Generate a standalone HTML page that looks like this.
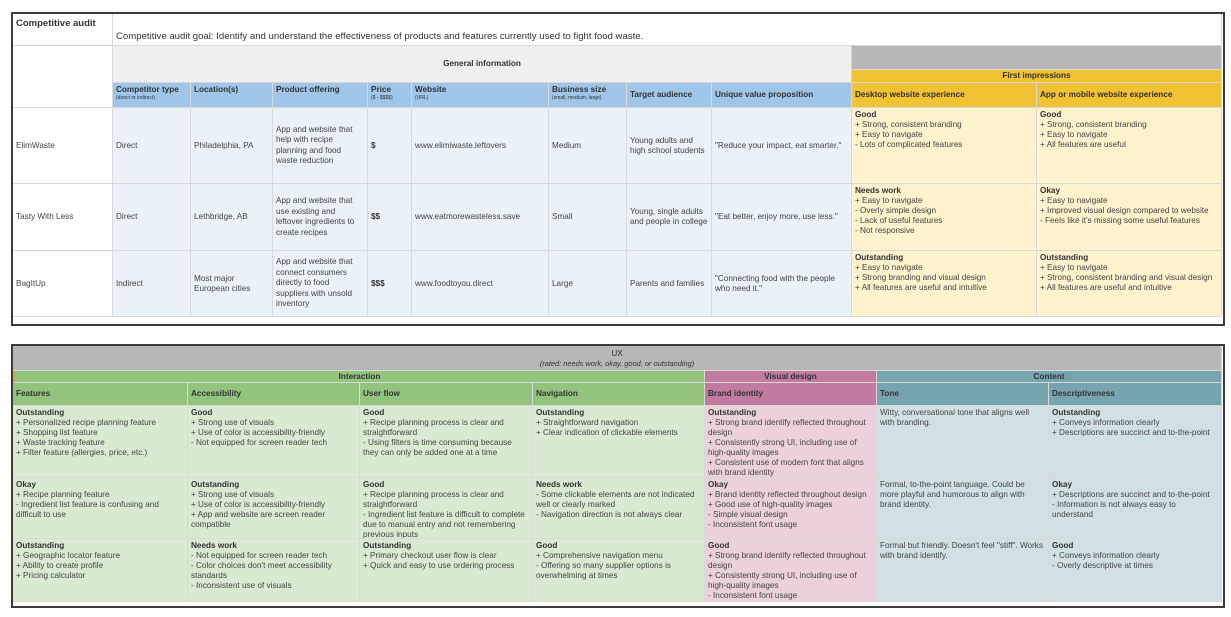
<!DOCTYPE html>
<html><head><meta charset="utf-8"><style>
*{margin:0;padding:0;box-sizing:border-box}
body{width:1231px;height:617px;background:#fff;position:relative;overflow:hidden;font-family:"Liberation Sans",Arial,sans-serif;color:#333}
.b{position:absolute;border:2px solid #3c3c3c}
.c{position:absolute;font-size:8.2px;line-height:10px;padding:2px 3px;border-right:1px solid #d8d8d8;border-bottom:1px solid #d8d8d8;overflow:hidden;color:#444}
.m{display:flex;align-items:center}
.ctr{display:flex;align-items:center;justify-content:center;font-weight:bold;color:#333}
.h{font-weight:bold;color:#333;font-size:8.2px}
.s{font-size:5px;font-weight:normal;display:block;line-height:6px}
b{color:#333}
.bl{background:#eaf1f8}.bh{background:#9fc5e8}
.yl{background:#fff2cc}.yh{background:#f1c232}
.gl{background:#d9ead3}.gh{background:#93c47d}
.pl{background:#ead1dc}.ph{background:#c27ba0}
.tl{background:#d0e0e3}.th{background:#76a5af}
</style></head><body>
<!-- TOP PANEL -->
<div class="b" style="left:11px;top:12px;width:1214px;height:314px"></div>
<div class="c h" style="left:13px;top:14px;width:100px;height:32px;font-size:9.5px;padding-top:5px">Competitive audit</div>
<div class="c" style="left:13px;top:46px;width:100px;height:62px"></div>
<div class="c" style="left:113px;top:14px;width:1109px;height:32px;font-size:9.6px;padding-top:18px;color:#333">Competitive audit goal: Identify and understand the effectiveness of products and features currently used to fight food waste.</div>
<div class="c ctr" style="left:113px;top:46px;width:739px;height:37px;background:#efefef">General information</div>
<div class="c" style="left:852px;top:46px;width:370px;height:24px;background:#b7b7b7"></div>
<div class="c ctr yh" style="left:852px;top:70px;width:370px;height:13px;padding:0">First impressions</div>

<div class="c h bh" style="left:113px;top:83px;width:78px;height:25px">Competitor type<span class="s">(direct or indirect)</span></div>
<div class="c h bh" style="left:191px;top:83px;width:82px;height:25px">Location(s)</div>
<div class="c h bh" style="left:273px;top:83px;width:95px;height:25px">Product offering</div>
<div class="c h bh" style="left:368px;top:83px;width:44px;height:25px">Price<span class="s">($ - $$$$)</span></div>
<div class="c h bh" style="left:412px;top:83px;width:137px;height:25px">Website<span class="s">(URL)</span></div>
<div class="c h bh" style="left:549px;top:83px;width:78px;height:25px">Business size<span class="s">(small, medium, large)</span></div>
<div class="c h bh m" style="left:627px;top:83px;width:85px;height:25px">Target audience</div>
<div class="c h bh m" style="left:712px;top:83px;width:140px;height:25px">Unique value proposition</div>
<div class="c h yh m" style="left:852px;top:83px;width:185px;height:25px">Desktop website experience</div>
<div class="c h yh m" style="left:1037px;top:83px;width:185px;height:25px">App or mobile website experience</div>

<!-- row1 -->
<div class="c m" style="left:13px;top:108px;width:100px;height:76px">ElimWaste</div>
<div class="c m bl" style="left:113px;top:108px;width:78px;height:76px">Direct</div>
<div class="c m bl" style="left:191px;top:108px;width:82px;height:76px">Philadelphia, PA</div>
<div class="c m bl" style="left:273px;top:108px;width:95px;height:76px;line-height:10.5px">App and website that help with recipe planning and food waste reduction</div>
<div class="c m bl" style="left:368px;top:108px;width:44px;height:76px"><b>$</b></div>
<div class="c m bl" style="left:412px;top:108px;width:137px;height:76px">www.elimiwaste.leftovers</div>
<div class="c m bl" style="left:549px;top:108px;width:78px;height:76px">Medium</div>
<div class="c m bl" style="left:627px;top:108px;width:85px;height:76px">Young adults and high school students</div>
<div class="c m bl" style="left:712px;top:108px;width:140px;height:76px">"Reduce your impact, eat smarter."</div>
<div class="c yl" style="left:852px;top:108px;width:185px;height:76px"><b>Good</b><br>+ Strong, consistent branding<br>+ Easy to navigate<br>- Lots of complicated features</div>
<div class="c yl" style="left:1037px;top:108px;width:185px;height:76px"><b>Good</b><br>+ Strong, consistent branding<br>+ Easy to navigate<br>+ All features are useful</div>
<!-- row2 -->
<div class="c m" style="left:13px;top:184px;width:100px;height:67px">Tasty With Less</div>
<div class="c m bl" style="left:113px;top:184px;width:78px;height:67px">Direct</div>
<div class="c m bl" style="left:191px;top:184px;width:82px;height:67px">Lethbridge, AB</div>
<div class="c m bl" style="left:273px;top:184px;width:95px;height:67px;line-height:10.5px">App and website that use existing and leftover ingredients to create recipes</div>
<div class="c m bl" style="left:368px;top:184px;width:44px;height:67px"><b>$$</b></div>
<div class="c m bl" style="left:412px;top:184px;width:137px;height:67px">www.eatmorewasteless.save</div>
<div class="c m bl" style="left:549px;top:184px;width:78px;height:67px">Small</div>
<div class="c m bl" style="left:627px;top:184px;width:85px;height:67px">Young, single adults and people in college</div>
<div class="c m bl" style="left:712px;top:184px;width:140px;height:67px">"Eat better, enjoy more, use less."</div>
<div class="c yl" style="left:852px;top:184px;width:185px;height:67px"><b>Needs work</b><br>+ Easy to navigate<br>- Overly simple design<br>- Lack of useful features<br>- Not responsive</div>
<div class="c yl" style="left:1037px;top:184px;width:185px;height:67px"><b>Okay</b><br>+ Easy to navigate<br>+ Improved visual design compared to website<br>- Feels like it's missing some useful features</div>
<!-- row3 -->
<div class="c m" style="left:13px;top:251px;width:100px;height:66px">BagItUp</div>
<div class="c m bl" style="left:113px;top:251px;width:78px;height:66px">Indirect</div>
<div class="c m bl" style="left:191px;top:251px;width:82px;height:66px">Most major European cities</div>
<div class="c m bl" style="left:273px;top:251px;width:95px;height:66px;line-height:10.5px">App and website that connect consumers directly to food suppliers with unsold inventory</div>
<div class="c m bl" style="left:368px;top:251px;width:44px;height:66px"><b>$$$</b></div>
<div class="c m bl" style="left:412px;top:251px;width:137px;height:66px">www.foodtoyou.direct</div>
<div class="c m bl" style="left:549px;top:251px;width:78px;height:66px">Large</div>
<div class="c m bl" style="left:627px;top:251px;width:85px;height:66px">Parents and families</div>
<div class="c m bl" style="left:712px;top:251px;width:140px;height:66px">"Connecting food with the people who need it."</div>
<div class="c yl" style="left:852px;top:251px;width:185px;height:66px"><b>Outstanding</b><br>+ Easy to navigate<br>+ Strong branding and visual design<br>+ All features are useful and intuitive</div>
<div class="c yl" style="left:1037px;top:251px;width:185px;height:66px"><b>Outstanding</b><br>+ Easy to navigate<br>+ Strong, consistent branding and visual design<br>+ All features are useful and intuitive</div>

<!-- BOTTOM PANEL -->
<div class="b" style="left:11px;top:344px;width:1214px;height:264px"></div>
<div class="c" style="left:13px;top:346px;width:1209px;height:25px;background:#b7b7b7;text-align:center;padding-top:3px;color:#333">UX<br><i style="font-size:7.4px">(rated: needs work, okay, good, or outstanding)</i></div>
<div class="c ctr gh" style="left:13px;top:371px;width:692px;height:12px;padding:0;border-left:2px solid #c9b040">Interaction</div>
<div class="c ctr ph" style="left:705px;top:371px;width:172px;height:12px;padding:0">Visual design</div>
<div class="c ctr th" style="left:877px;top:371px;width:345px;height:12px;padding:0">Content</div>
<div class="c h gh m" style="left:13px;top:383px;width:175px;height:23px">Features</div>
<div class="c h gh m" style="left:188px;top:383px;width:172px;height:23px">Accessibility</div>
<div class="c h gh m" style="left:360px;top:383px;width:173px;height:23px">User flow</div>
<div class="c h gh m" style="left:533px;top:383px;width:172px;height:23px">Navigation</div>
<div class="c h ph m" style="left:705px;top:383px;width:172px;height:23px">Brand identity</div>
<div class="c h th m" style="left:877px;top:383px;width:172px;height:23px">Tone</div>
<div class="c h th m" style="left:1049px;top:383px;width:173px;height:23px">Descriptiveness</div>
<!-- r1 -->
<div class="c gl" style="left:13px;top:406px;width:175px;height:72px"><b>Outstanding</b><br>+ Personalized recipe planning feature<br>+ Shopping list feature<br>+ Waste tracking feature<br>+ Filter feature (allergies, price, etc.)</div>
<div class="c gl" style="left:188px;top:406px;width:172px;height:72px"><b>Good</b><br>+ Strong use of visuals<br>+ Use of color is accessibility-friendly<br>- Not equipped for screen reader tech</div>
<div class="c gl" style="left:360px;top:406px;width:173px;height:72px"><b>Good</b><br>+ Recipe planning process is clear and straightforward<br>- Using filters is time consuming because they can only be added one at a time</div>
<div class="c gl" style="left:533px;top:406px;width:172px;height:72px"><b>Outstanding</b><br>+ Straightforward navigation<br>+ Clear indication of clickable elements</div>
<div class="c pl" style="left:705px;top:406px;width:172px;height:72px"><b>Outstanding</b><br>+ Strong brand identify reflected throughout design<br>+ Consistently strong UI, including use of high-quality images<br>+ Consistent use of modern font that aligns with brand identity</div>
<div class="c tl" style="left:877px;top:406px;width:172px;height:72px">Witty, conversational tone that aligns well with branding.</div>
<div class="c tl" style="left:1049px;top:406px;width:173px;height:72px"><b>Outstanding</b><br>+ Conveys information clearly<br>+ Descriptions are succinct and to-the-point</div>
<!-- r2 -->
<div class="c gl" style="left:13px;top:478px;width:175px;height:61px"><b>Okay</b><br>+ Recipe planning feature<br>- Ingredient list feature is confusing and difficult to use</div>
<div class="c gl" style="left:188px;top:478px;width:172px;height:61px"><b>Outstanding</b><br>+ Strong use of visuals<br>+ Use of color is accessibility-friendly<br>+ App and website are screen reader compatible</div>
<div class="c gl" style="left:360px;top:478px;width:173px;height:61px"><b>Good</b><br>+ Recipe planning process is clear and straightforward<br>- Ingredient list feature is difficult to complete due to manual entry and not remembering previous inputs</div>
<div class="c gl" style="left:533px;top:478px;width:172px;height:61px"><b>Needs work</b><br>- Some clickable elements are not indicated well or clearly marked<br>- Navigation direction is not always clear</div>
<div class="c pl" style="left:705px;top:478px;width:172px;height:61px"><b>Okay</b><br>+ Brand identity reflected throughout design<br>+ Good use of high-quality images<br>- Simple visual design<br>- Inconsistent font usage</div>
<div class="c tl" style="left:877px;top:478px;width:172px;height:61px">Formal, to-the-point language. Could be more playful and humorous to align with brand identity.</div>
<div class="c tl" style="left:1049px;top:478px;width:173px;height:61px"><b>Okay</b><br>+ Descriptions are succinct and to-the-point<br>- Information is not always easy to understand</div>
<!-- r3 -->
<div class="c gl" style="left:13px;top:539px;width:175px;height:63px"><b>Outstanding</b><br>+ Geographic locator feature<br>+ Ability to create profile<br>+ Pricing calculator</div>
<div class="c gl" style="left:188px;top:539px;width:172px;height:63px"><b>Needs work</b><br>- Not equipped for screen reader tech<br>- Color choices don't meet accessibility standards<br>- Inconsistent use of visuals</div>
<div class="c gl" style="left:360px;top:539px;width:173px;height:63px"><b>Outstanding</b><br>+ Primary checkout user flow is clear<br>+ Quick and easy to use ordering process</div>
<div class="c gl" style="left:533px;top:539px;width:172px;height:63px"><b>Good</b><br>+ Comprehensive navigation menu<br>- Offering so many supplier options is overwhelming at times</div>
<div class="c pl" style="left:705px;top:539px;width:172px;height:63px"><b>Good</b><br>+ Strong brand identify reflected throughout design<br>+ Consistently strong UI, including use of high-quality images<br>- Inconsistent font usage</div>
<div class="c tl" style="left:877px;top:539px;width:172px;height:63px">Formal but friendly. Doesn't feel "stiff". Works with brand identify.</div>
<div class="c tl" style="left:1049px;top:539px;width:173px;height:63px"><b>Good</b><br>+ Conveys information clearly<br>- Overly descriptive at times</div>
</body></html>
